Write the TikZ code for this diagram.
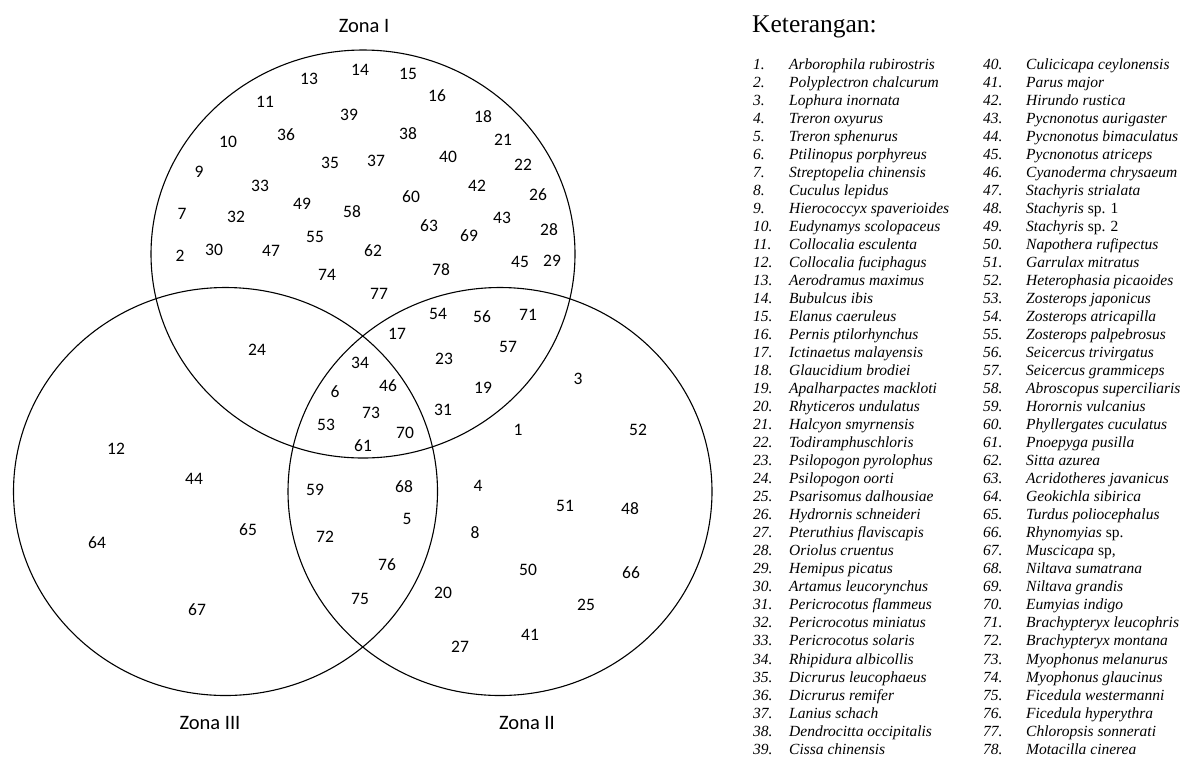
\documentclass[tikz,border=0pt]{standalone}
\usepackage{fontspec}
\setmainfont{Liberation Serif}
\newfontfamily\calibri{Carlito}
\usetikzlibrary{shapes.geometric}
\tikzset{
	x=1pt, y=-1pt, % satuan = piksel, sumbu y ke bawah
	zona/.style={ellipse, draw, line width=1.1pt, minimum width=424pt, minimum height=408pt, inner sep=0pt}, % lingkaran zona
	angka/.style={font=\calibri\fontsize{17.5}{18}\selectfont, inner sep=0pt}, % nomor jenis burung
	judul/.style={font=\calibri\fontsize{20.5}{22}\selectfont, inner sep=0pt}, % nama zona
	ket/.style={font=\fontsize{15.5}{18}\selectfont\itshape, anchor=base west, inner sep=0pt} % daftar keterangan
}

\begin{document}
\begin{tikzpicture}
	\useasboundingbox (0,0) rectangle (1185,756);
	% lingkaran
	\node[zona] (lI) at (363,254) {};
	\node[zona] (lIII) at (225.5,491.5) {};
	\node[zona] (lII) at (500,491.5) {};
	\node[judul] (zI) at (364,26) {Zona I};
	\node[judul] (zIII) at (210,723) {Zona III};
	\node[judul] (zII) at (527,723) {Zona II};
	% zona I saja
	\node[angka] (s13) at (309,79) {13};
	\node[angka] (s14) at (360,70) {14};
	\node[angka] (s15) at (408,74) {15};
	\node[angka] (s16) at (437,96) {16};
	\node[angka] (s11) at (265,102) {11};
	\node[angka] (s39) at (349,115) {39};
	\node[angka] (s18) at (483,117) {18};
	\node[angka] (s10) at (228,142) {10};
	\node[angka] (s36) at (286,135) {36};
	\node[angka] (s38) at (408,134) {38};
	\node[angka] (s21) at (503,140) {21};
	\node[angka] (s9) at (199,172) {9};
	\node[angka] (s35) at (330,163) {35};
	\node[angka] (s37) at (376,161) {37};
	\node[angka] (s40) at (448,157) {40};
	\node[angka] (s22) at (523,165) {22};
	\node[angka] (s33) at (260,186) {33};
	\node[angka] (s60) at (411,197) {60};
	\node[angka] (s42) at (477,186) {42};
	\node[angka] (s26) at (538,195) {26};
	\node[angka] (s7) at (182,214) {7};
	\node[angka] (s32) at (236,217) {32};
	\node[angka] (s49) at (302,204) {49};
	\node[angka] (s58) at (352,212) {58};
	\node[angka] (s63) at (429,226) {63};
	\node[angka] (s43) at (502,218) {43};
	\node[angka] (s28) at (549,230) {28};
	\node[angka] (s69) at (469,236) {69};
	\node[angka] (s2) at (180,256) {2};
	\node[angka] (s30) at (214,250) {30};
	\node[angka] (s47) at (271,251) {47};
	\node[angka] (s55) at (315,237) {55};
	\node[angka] (s62) at (373,251) {62};
	\node[angka] (s78) at (441,270) {78};
	\node[angka] (s45) at (520,262) {45};
	\node[angka] (s29) at (552,261) {29};
	\node[angka] (s74) at (327,275) {74};
	\node[angka] (s77) at (379,294) {77};
	% zona I dan II
	\node[angka] (s54) at (438,314) {54};
	\node[angka] (s56) at (482,317) {56};
	\node[angka] (s71) at (528,315) {71};
	\node[angka] (s17) at (397,334) {17};
	\node[angka] (s23) at (444,359) {23};
	\node[angka] (s57) at (508,347) {57};
	\node[angka] (s19) at (483,388) {19};
	\node[angka] (s31) at (443,410) {31};
	% zona I dan III
	\node[angka] (s24) at (257,350) {24};
	% ketiga zona
	\node[angka] (s34) at (360,363) {34};
	\node[angka] (s6) at (335,392) {6};
	\node[angka] (s46) at (388,386) {46};
	\node[angka] (s73) at (371,413) {73};
	\node[angka] (s53) at (326,425) {53};
	\node[angka] (s70) at (405,433) {70};
	\node[angka] (s61) at (363,446) {61};
	% zona II saja
	\node[angka] (s3) at (578,379) {3};
	\node[angka] (s1) at (518,430) {1};
	\node[angka] (s52) at (638,430) {52};
	\node[angka] (s4) at (478,486) {4};
	\node[angka] (s51) at (565,506) {51};
	\node[angka] (s48) at (630,509) {48};
	\node[angka] (s8) at (475,533) {8};
	\node[angka] (s50) at (528,570) {50};
	\node[angka] (s66) at (631,573) {66};
	\node[angka] (s20) at (443,593) {20};
	\node[angka] (s25) at (586,605) {25};
	\node[angka] (s41) at (530,635) {41};
	\node[angka] (s27) at (460,647) {27};
	% zona II dan III
	\node[angka] (s59) at (315,490) {59};
	\node[angka] (s68) at (404,487) {68};
	\node[angka] (s5) at (407,519) {5};
	\node[angka] (s72) at (325,537) {72};
	\node[angka] (s76) at (387,565) {76};
	\node[angka] (s75) at (360,599) {75};
	% zona III saja
	\node[angka] (s12) at (116,449) {12};
	\node[angka] (s44) at (194,479) {44};
	\node[angka] (s65) at (248,530) {65};
	\node[angka] (s64) at (97,543) {64};
	\node[angka] (s67) at (197,610) {67};
	% keterangan
	\node[anchor=base west, inner sep=0pt, font=\fontsize{25.5}{28}\selectfont] (ket) at (752,32) {Keterangan:};
	\foreach \i/\nama [count=\r from 0] in {1/Arborophila rubirostris, 2/Polyplectron chalcurum, 3/Lophura inornata, 4/Treron oxyurus, 5/Treron sphenurus, 6/Ptilinopus porphyreus, 7/Streptopelia chinensis, 8/Cuculus lepidus, 9/Hierococcyx spaverioides, 10/Eudynamys scolopaceus, 11/Collocalia esculenta, 12/Collocalia fuciphagus, 13/Aerodramus maximus, 14/Bubulcus ibis, 15/Elanus caeruleus, 16/Pernis ptilorhynchus, 17/Ictinaetus malayensis, 18/Glaucidium brodiei, 19/Apalharpactes mackloti, 20/Rhyticeros undulatus, 21/Halcyon smyrnensis, 22/Todiramphuschloris, 23/Psilopogon pyrolophus, 24/Psilopogon oorti, 25/Psarisomus dalhousiae, 26/Hydrornis schneideri, 27/Pteruthius flaviscapis, 28/Oriolus cruentus, 29/Hemipus picatus, 30/Artamus leucorynchus, 31/Pericrocotus flammeus, 32/Pericrocotus miniatus, 33/Pericrocotus solaris, 34/Rhipidura albicollis, 35/Dicrurus leucophaeus, 36/Dicrurus remifer, 37/Lanius schach, 38/Dendrocitta occipitalis, 39/Cissa chinensis}{
		\node[ket] (k\i) at (753,{69+18.03*\r}) {\i.};
		\node[ket] (n\i) at (789,{69+18.03*\r}) {\nama};
	}
	\foreach \i/\nama [count=\r from 0] in {40/Culicicapa ceylonensis, 41/Parus major, 42/Hirundo rustica, 43/Pycnonotus aurigaster, 44/Pycnonotus bimaculatus, 45/Pycnonotus atriceps, 46/Cyanoderma chrysaeum, 47/Stachyris strialata, 48/{Stachyris \textup{sp. 1}}, 49/{Stachyris \textup{sp. 2}}, 50/Napothera rufipectus, 51/Garrulax mitratus, 52/Heterophasia picaoides, 53/Zosterops japonicus, 54/Zosterops atricapilla, 55/Zosterops palpebrosus, 56/Seicercus trivirgatus, 57/Seicercus grammiceps, 58/Abroscopus superciliaris, 59/Horornis vulcanius, 60/Phyllergates cuculatus, 61/Pnoepyga pusilla, 62/Sitta azurea, 63/Acridotheres javanicus, 64/Geokichla sibirica, 65/Turdus poliocephalus, 66/{Rhynomyias \textup{sp.}}, 67/{Muscicapa \textup{sp,}}, 68/Niltava sumatrana, 69/Niltava grandis, 70/Eumyias indigo, 71/Brachypteryx leucophris, 72/Brachypteryx montana, 73/Myophonus melanurus, 74/Myophonus glaucinus, 75/Ficedula westermanni, 76/Ficedula hyperythra, 77/Chloropsis sonnerati, 78/Motacilla cinerea}{
		\node[ket] (k\i) at (983,{69+18.03*\r}) {\i.};
		\node[ket] (n\i) at (1026,{69+18.03*\r}) {\nama};
	}
\end{tikzpicture}
\end{document}
